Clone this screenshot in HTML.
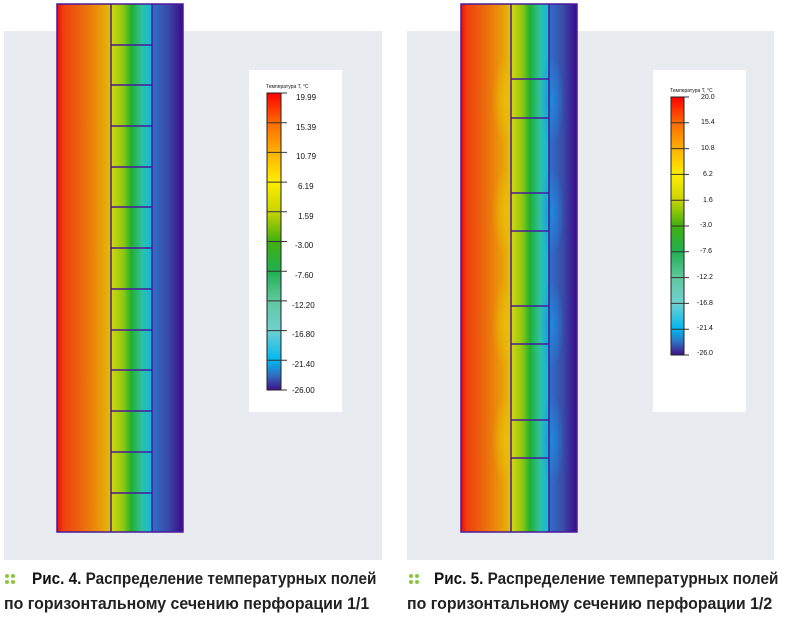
<!DOCTYPE html>
<html><head><meta charset="utf-8"><style>
body{margin:0;width:788px;height:618px;background:#fff;position:relative;overflow:hidden;font-family:"Liberation Sans",sans-serif}
.a{position:absolute}
.bg{background:#e8ecf0}
.lg{background:#fff}
.cap{position:absolute;font-family:"Liberation Sans",sans-serif;font-size:17px;font-weight:bold;color:#222;line-height:23px;white-space:nowrap;transform:scaleX(0.935);transform-origin:0 0}
.cap b{color:#111}
.d{position:absolute;width:4px;height:4px;border-radius:50%;background:#8cc63f}
.t{position:absolute;font-size:8px;color:#111}
.tt{position:absolute;font-size:5px;color:#111}
</style></head><body>
<div class="a bg" style="left:4px;top:31px;width:378px;height:529px"></div>
<div class="a bg" style="left:407px;top:31px;width:367px;height:529px"></div>

<svg class="a" style="left:0;top:0" width="788" height="618">
<defs>
<linearGradient id="w1" x1="0" x2="1"><stop offset="0" stop-color="#f00a0a"/><stop offset=".12" stop-color="#f04010"/><stop offset=".5" stop-color="#eb6d0c"/><stop offset=".85" stop-color="#e9a008"/><stop offset="1" stop-color="#dcc408"/></linearGradient>
<linearGradient id="m1" x1="0" x2="1"><stop offset="0" stop-color="#d6d610"/><stop offset=".3" stop-color="#8ec810"/><stop offset=".5" stop-color="#20b030"/><stop offset=".75" stop-color="#30c0a0"/><stop offset="1" stop-color="#10b8e0"/></linearGradient>
<linearGradient id="r1" x1="0" x2="1"><stop offset="0" stop-color="#2f70c8"/><stop offset=".5" stop-color="#3a4ca8"/><stop offset="1" stop-color="#3a0a8a"/></linearGradient>
<linearGradient id="leg" x1="0" x2="0" y1="0" y2="1"><stop offset="0" stop-color="#f00"/><stop offset=".1" stop-color="#ff6a00"/><stop offset=".2" stop-color="#ffb000"/><stop offset=".3" stop-color="#ffee00"/><stop offset=".4" stop-color="#c8d400"/><stop offset=".5" stop-color="#40b010"/><stop offset=".6" stop-color="#20b050"/><stop offset=".7" stop-color="#60c8a0"/><stop offset=".8" stop-color="#70d0d0"/><stop offset=".9" stop-color="#00b8f0"/><stop offset=".95" stop-color="#3070c0"/><stop offset="1" stop-color="#40108a"/></linearGradient>
<radialGradient id="bulge" cx=".5" cy=".5" r=".5"><stop offset="0" stop-color="#e8c408" stop-opacity=".8"/><stop offset="1" stop-color="#e8c408" stop-opacity="0"/></radialGradient>
<radialGradient id="bb" cx=".5" cy=".5" r=".5"><stop offset="0" stop-color="#1a90e0" stop-opacity=".8"/><stop offset="1" stop-color="#1a90e0" stop-opacity="0"/></radialGradient>
</defs>
<rect x="57" y="4" width="54" height="528" fill="url(#w1)"/>
<rect x="111" y="4" width="41" height="528" fill="url(#m1)"/>
<rect x="152" y="4" width="31" height="528" fill="url(#r1)"/>
<g fill="none" stroke="#4a1a9a" stroke-width="1.5">
<rect x="57" y="4" width="126" height="528"/>
<line x1="111" y1="4" x2="111" y2="532"/><line x1="152" y1="4" x2="152" y2="532"/>
<line x1="111" y1="45" x2="152" y2="45"/><line x1="111" y1="85" x2="152" y2="85"/><line x1="111" y1="126" x2="152" y2="126"/><line x1="111" y1="167" x2="152" y2="167"/><line x1="111" y1="207" x2="152" y2="207"/><line x1="111" y1="248" x2="152" y2="248"/><line x1="111" y1="289" x2="152" y2="289"/><line x1="111" y1="330" x2="152" y2="330"/><line x1="111" y1="370" x2="152" y2="370"/><line x1="111" y1="411" x2="152" y2="411"/><line x1="111" y1="452" x2="152" y2="452"/><line x1="111" y1="493" x2="152" y2="493"/>
</g>
<rect x="461" y="4" width="50" height="528" fill="url(#w1)"/>
<ellipse cx="506" cy="100" rx="14" ry="45" fill="url(#bulge)"/>
<ellipse cx="506" cy="212" rx="14" ry="45" fill="url(#bulge)"/>
<ellipse cx="506" cy="325" rx="14" ry="45" fill="url(#bulge)"/>
<ellipse cx="506" cy="440" rx="14" ry="45" fill="url(#bulge)"/>
<rect x="511" y="4" width="38" height="528" fill="url(#m1)"/>
<rect x="549" y="4" width="28" height="528" fill="url(#r1)"/>
<ellipse cx="552" cy="100" rx="12" ry="45" fill="url(#bb)"/>
<ellipse cx="552" cy="212" rx="12" ry="45" fill="url(#bb)"/>
<ellipse cx="552" cy="325" rx="12" ry="45" fill="url(#bb)"/>
<ellipse cx="552" cy="440" rx="12" ry="45" fill="url(#bb)"/>
<g fill="none" stroke="#4a1a9a" stroke-width="1.5">
<rect x="461" y="4" width="116" height="528"/>
<line x1="511" y1="4" x2="511" y2="532"/><line x1="549" y1="4" x2="549" y2="532"/>
<line x1="511" y1="79" x2="549" y2="79"/><line x1="511" y1="118" x2="549" y2="118"/><line x1="511" y1="193" x2="549" y2="193"/><line x1="511" y1="231" x2="549" y2="231"/><line x1="511" y1="306" x2="549" y2="306"/><line x1="511" y1="344" x2="549" y2="344"/><line x1="511" y1="420" x2="549" y2="420"/><line x1="511" y1="458" x2="549" y2="458"/>
</g>
</svg>

<div class="a lg" style="left:249px;top:70px;width:93px;height:342px"></div>
<div class="tt" style="left:266px;top:84px">Температура T, °C</div>
<svg class="a" style="left:265px;top:90px" width="40" height="305">
<rect x="2" y="3" width="14" height="297" fill="url(#leg)" stroke="#222" stroke-width="1"/>
<g stroke="#333" stroke-width="1">
<line x1="2" y1="32.7" x2="22" y2="32.7"/><line x1="2" y1="62.4" x2="22" y2="62.4"/><line x1="2" y1="92.1" x2="22" y2="92.1"/><line x1="2" y1="121.8" x2="22" y2="121.8"/><line x1="2" y1="151.5" x2="22" y2="151.5"/><line x1="2" y1="181.2" x2="22" y2="181.2"/><line x1="2" y1="210.9" x2="22" y2="210.9"/><line x1="2" y1="240.6" x2="22" y2="240.6"/><line x1="2" y1="270.3" x2="22" y2="270.3"/><line x1="16" y1="3" x2="22" y2="3"/><line x1="16" y1="300" x2="22" y2="300"/>
</g></svg>
<div class="t" style="left:296px;top:93px">19.99</div>
<div class="t" style="left:296px;top:123px">15.39</div>
<div class="t" style="left:296px;top:152px">10.79</div>
<div class="t" style="left:298px;top:182px">6.19</div>
<div class="t" style="left:298px;top:212px">1.59</div>
<div class="t" style="left:295px;top:241px">-3.00</div>
<div class="t" style="left:295px;top:271px">-7.60</div>
<div class="t" style="left:292px;top:301px">-12.20</div>
<div class="t" style="left:292px;top:330px">-16.80</div>
<div class="t" style="left:292px;top:360px">-21.40</div>
<div class="t" style="left:292px;top:386px">-26.00</div>

<div class="a lg" style="left:653px;top:70px;width:93px;height:342px"></div>
<div class="tt" style="left:670px;top:88px">Температура T, °C</div>
<svg class="a" style="left:669px;top:94px" width="40" height="265">
<rect x="2" y="3" width="13" height="258" fill="url(#leg)" stroke="#222" stroke-width="1"/>
<g stroke="#333" stroke-width="1">
<line x1="2" y1="28.8" x2="20" y2="28.8"/><line x1="2" y1="54.6" x2="20" y2="54.6"/><line x1="2" y1="80.4" x2="20" y2="80.4"/><line x1="2" y1="106.2" x2="20" y2="106.2"/><line x1="2" y1="132" x2="20" y2="132"/><line x1="2" y1="157.8" x2="20" y2="157.8"/><line x1="2" y1="183.6" x2="20" y2="183.6"/><line x1="2" y1="209.4" x2="20" y2="209.4"/><line x1="2" y1="235.2" x2="20" y2="235.2"/><line x1="15" y1="3" x2="20" y2="3"/><line x1="15" y1="261" x2="20" y2="261"/>
</g></svg>
<div class="t" style="left:701px;top:94px;font-size:7px">20.0</div>
<div class="t" style="left:701px;top:119px;font-size:7px">15.4</div>
<div class="t" style="left:701px;top:145px;font-size:7px">10.8</div>
<div class="t" style="left:703px;top:171px;font-size:7px">6.2</div>
<div class="t" style="left:703px;top:197px;font-size:7px">1.6</div>
<div class="t" style="left:700px;top:222px;font-size:7px">-3.0</div>
<div class="t" style="left:700px;top:248px;font-size:7px">-7.6</div>
<div class="t" style="left:697px;top:274px;font-size:7px">-12.2</div>
<div class="t" style="left:697px;top:300px;font-size:7px">-16.8</div>
<div class="t" style="left:697px;top:325px;font-size:7px">-21.4</div>
<div class="t" style="left:697px;top:350px;font-size:7px">-26.0</div>

<div class="d" style="left:5px;top:574px"></div><div class="d" style="left:11px;top:574px"></div>
<div class="d" style="left:5px;top:580px"></div><div class="d" style="left:11px;top:580px"></div>
<div class="d" style="left:409px;top:574px"></div><div class="d" style="left:415px;top:574px"></div>
<div class="d" style="left:409px;top:580px"></div><div class="d" style="left:415px;top:580px"></div>
<div class="cap" style="left:32px;top:567px;transform:scaleX(0.9)"><b>Рис. 4.</b> Распределение температурных полей</div>
<div class="cap" style="left:4px;top:592px">по горизонтальному сечению перфорации 1/1</div>
<div class="cap" style="left:434px;top:567px;transform:scaleX(0.9)"><b>Рис. 5.</b> Распределение температурных полей</div>
<div class="cap" style="left:407px;top:592px">по горизонтальному сечению перфорации 1/2</div>
</body></html>
